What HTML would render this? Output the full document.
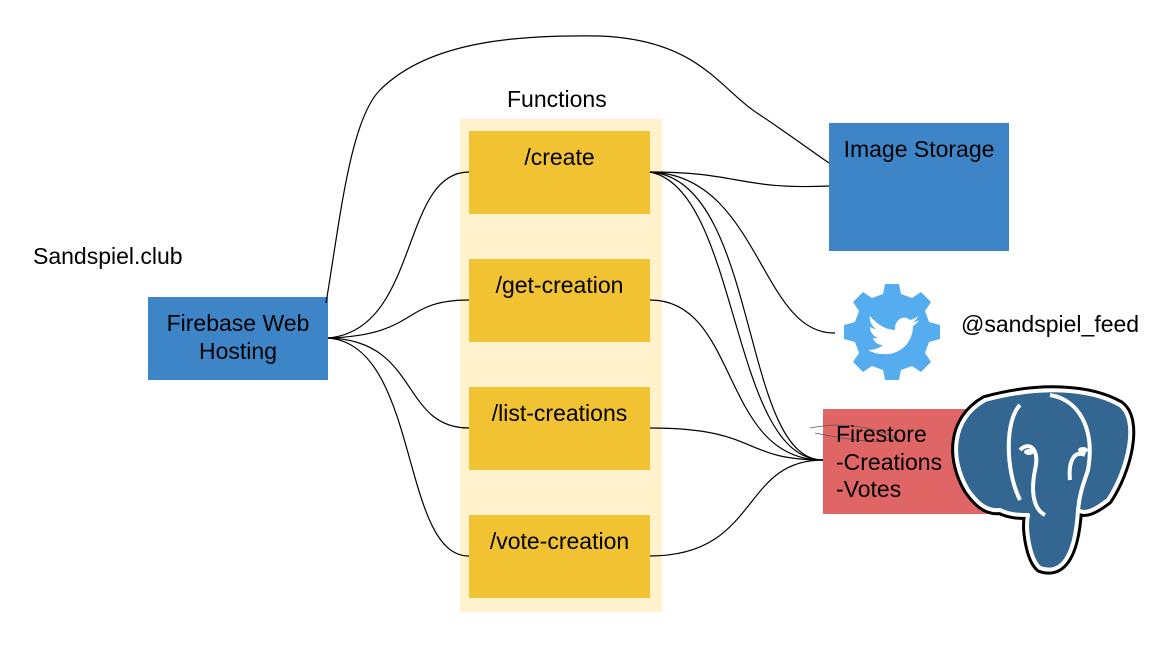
<!DOCTYPE html>
<html><head><style>
body{margin:0;width:1150px;height:658px;background:#fff;overflow:hidden;font-family:"Liberation Sans",sans-serif;}
.t{position:absolute;font-size:23px;color:#000;white-space:nowrap}
.b{position:absolute}
</style></head><body>
<div class="b" style="left:460px;top:119px;width:202px;height:493px;background:#fff2cc"></div>
<div class="b" style="left:469px;top:131px;width:181px;height:83px;background:#f1c232"></div>
<div class="b" style="left:469px;top:259px;width:181px;height:83px;background:#f1c232"></div>
<div class="b" style="left:469px;top:387px;width:181px;height:83px;background:#f1c232"></div>
<div class="b" style="left:469px;top:515px;width:181px;height:83px;background:#f1c232"></div>
<div class="b" style="left:148px;top:297px;width:180px;height:83px;background:#3d85c6"></div>
<div class="b" style="left:829px;top:123px;width:180px;height:128px;background:#3d85c6"></div>
<div class="b" style="left:823px;top:409px;width:167px;height:105px;background:#e06666"></div>
<svg class="b" style="left:0;top:0" width="1150" height="658" fill="none" stroke="#000" stroke-width="1.2">
<path d="M326 303 C340 220,350 120,380 90 C430 40,520 35,600 36 C700 40,720 90,760 115 C790 135,810 150,829 163"/>
<path d="M328 338 C420 330,400 172,469 172"/>
<path d="M328 338 C420 335,400 300,469 300"/>
<path d="M328 338 C420 340,400 428,469 428"/>
<path d="M328 338 C420 345,400 556,469 556"/>
<path d="M650 172 C740 172,740 190,829 186"/>
<path d="M650 172 C760 175,760 335,835 333"/>
<path d="M650 172 C760 180,740 460,823 460"/>
<path d="M650 172 C740 190,730 460,823 460"/>
<path d="M650 300 C740 300,720 460,823 460"/>
<path d="M650 428 C760 428,740 460,823 460"/>
<path d="M650 556 C760 556,740 460,823 460"/>
<g transform="translate(892,332)">
<path fill="#55acee" stroke="none" d="M-7 -48 L7 -48 L9 -38 L20 -34 L29 -40 L39 -30 L33 -21 L37 -10 L48 -7 L48 7 L37 10 L33 21 L39 30 L29 40 L20 34 L9 38 L7 48 L-7 48 L-9 38 L-20 34 L-29 40 L-39 30 L-33 21 L-37 10 L-48 7 L-48 -7 L-37 -10 L-33 -21 L-39 -30 L-29 -40 L-20 -34 L-9 -38Z"/>
<path fill="#fff" stroke="none" d="M-22 -16 C-14 -6,-4 -2,3 -2 C2 -12,12 -18,18 -12 C22 -13,24 -14,26 -16 C25 -13,23 -11,21 -10 C24 -10,25 -11,27 -12 C25 -9,23 -7,21 -6 C21 12,6 24,-10 22 C-16 22,-20 20,-24 18 C-18 18,-12 16,-9 13 C-14 13,-18 10,-19 6 C-17 6,-16 6,-14 6 C-19 4,-22 0,-22 -5 C-20 -4,-18 -3,-16 -3 C-21 -7,-23 -12,-22 -16Z"/>
</g>
<g stroke-linejoin="round">
<path d="M985 400 C1040 385,1090 388,1120 405 C1140 420,1128 470,1108 500 C1095 510,1085 515,1078 510 C1075 560,1060 575,1040 568 C1030 560,1025 530,1028 515 C1020 515,1010 515,1000 510 C985 512,975 500,968 490 C950 460,950 420,985 400Z" fill="#336791" stroke="#000" stroke-width="10"/>
<path d="M985 400 C1040 385,1090 388,1120 405 C1140 420,1128 470,1108 500 C1095 510,1085 515,1078 510 C1075 560,1060 575,1040 568 C1030 560,1025 530,1028 515 C1020 515,1010 515,1000 510 C985 512,975 500,968 490 C950 460,950 420,985 400Z" fill="#336791" stroke="#fff" stroke-width="4"/>
<path d="M1020 405 C1005 420,1005 470,1020 500 M1050 395 C1080 400,1095 430,1088 470 C1085 480,1080 490,1078 510 M1020 450 C1030 440,1040 450,1035 470 C1030 495,1035 510,1045 515 M1085 455 C1075 450,1068 460,1070 480" stroke="#fff" stroke-width="4"/>
<ellipse cx="1029" cy="452" rx="5" ry="3" fill="#fff" stroke="none"/>
<ellipse cx="1083" cy="450" rx="5" ry="3" fill="#fff" stroke="none"/>
</g>
<path d="M810 428 C850 420,880 430,900 440 M815 433 C850 440,880 445,895 438" stroke="#555" stroke-width="0.8"/>
</svg>
<div class="t" style="left:507px;top:86px">Functions</div>
<div class="t" style="left:469px;width:181px;text-align:center;top:144px">/create</div>
<div class="t" style="left:469px;width:181px;text-align:center;top:272px">/get-creation</div>
<div class="t" style="left:469px;width:181px;text-align:center;top:400px">/list-creations</div>
<div class="t" style="left:469px;width:181px;text-align:center;top:528px">/vote-creation</div>
<div class="t" style="left:33px;top:243px">Sandspiel.club</div>
<div class="t" style="left:148px;width:180px;text-align:center;top:309px;line-height:28px;white-space:normal">Firebase Web Hosting</div>
<div class="t" style="left:829px;width:180px;text-align:center;top:136px">Image Storage</div>
<div class="t" style="left:961px;top:311px">@sandspiel_feed</div>
<div class="t" style="left:836px;top:421px;line-height:27.5px">Firestore<br>-Creations<br>-Votes</div>
</body></html>
